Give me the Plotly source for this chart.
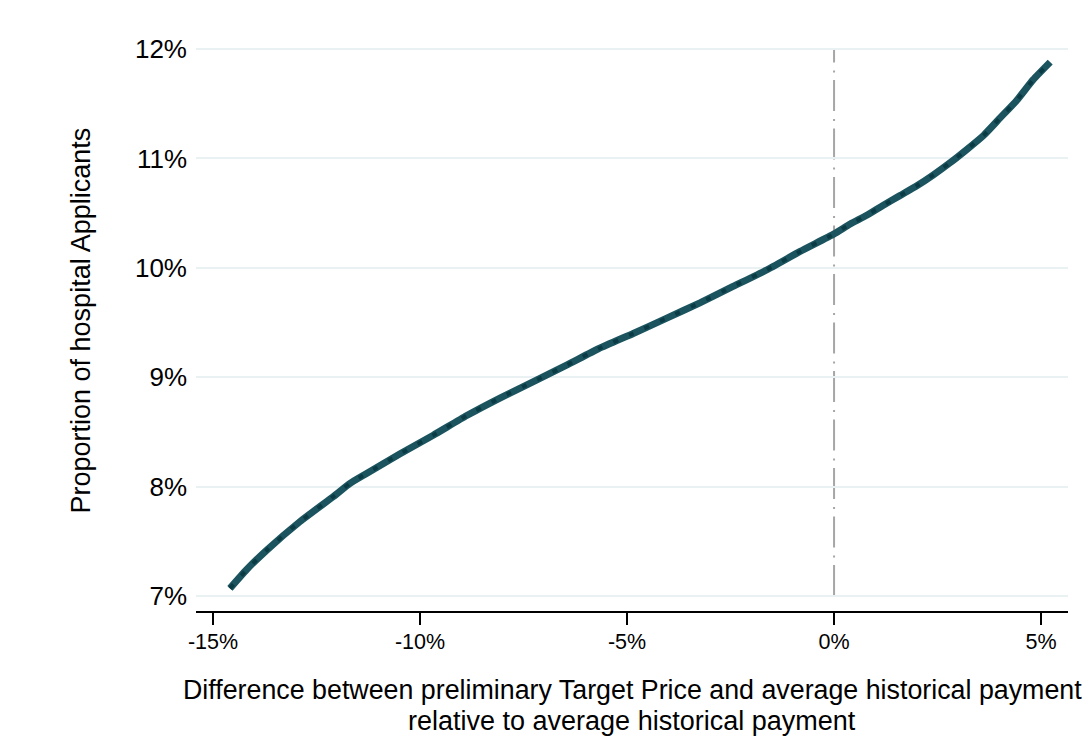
import plotly.graph_objects as go

# Difference between preliminary target price and historical payment (%)
diff_pct = [-14.59, -14.19, -13.70, -12.90, -12.09, -11.69, -11.29, -10.48,
            -9.68, -8.87, -8.07, -7.26, -6.46, -5.69, -4.85, -4.04, -3.24,
            -2.44, -1.63, -0.82, 0.0, 0.39, 0.79, 1.18, 1.59, 2.0, 2.40,
            2.80, 3.20, 3.61, 4.01, 4.41, 4.81, 5.22]
# Share of hospitals that applied (%)
share_pct = [7.07, 7.24, 7.42, 7.68, 7.91, 8.03, 8.12, 8.30,
             8.47, 8.65, 8.81, 8.96, 9.11, 9.26, 9.40, 9.54, 9.68,
             9.83, 9.98, 10.15, 10.31, 10.40, 10.48, 10.57, 10.66, 10.75, 10.85,
             10.96, 11.08, 11.21, 11.37, 11.53, 11.72, 11.88]

x_ticks = [-15, -10, -5, 0, 5]
x_tick_labels = ["-15%", "-10%", "-5%", "0%", "5%"]
y_ticks = [7, 8, 9, 10, 11, 12]
y_tick_labels = ["7%", "8%", "9%", "10%", "11%", "12%"]

FONT = "Liberation Sans, Arial, sans-serif"

fig = go.Figure()

# Fitted curve: solid teal line with a darker dashed overlay
fig.add_trace(go.Scatter(
    x=diff_pct, y=share_pct, mode="lines",
    line=dict(color="#1b545e", width=7, shape="spline", smoothing=0.5),
    hoverinfo="skip", showlegend=False,
))
fig.add_trace(go.Scatter(
    x=diff_pct, y=share_pct, mode="lines",
    line=dict(color="#0a3b44", width=4, dash="5px,12px",
              shape="spline", smoothing=0.5),
    hoverinfo="skip", showlegend=False,
))

# Reference line at zero difference
fig.add_shape(type="line", xref="x", yref="y", x0=0, x1=0, y0=7, y1=12,
              line=dict(color="#a6a6a6", width=2, dash="31px,7.5px,2px,8px"),
              layer="below")

fig.update_layout(
    width=1086, height=738,
    margin=dict(l=196, r=18, t=30, b=127),
    paper_bgcolor="white", plot_bgcolor="white",
    font=dict(family=FONT, color="black"),
    showlegend=False,
)

fig.update_xaxes(
    range=[-15.41, 5.65],
    tickvals=x_ticks, ticktext=x_tick_labels,
    tickfont=dict(size=21.5, family=FONT, color="black"),
    showline=True, linecolor="black", linewidth=1.5,
    ticks="outside", ticklen=12, tickwidth=1.5, tickcolor="black",
    showgrid=False, zeroline=False, ticklabelstandoff=-2,
)
fig.update_yaxes(
    range=[6.863, 12.174],
    tickvals=y_ticks, ticktext=y_tick_labels,
    tickfont=dict(size=26, family=FONT, color="black"),
    showline=False, ticks="", ticklabelstandoff=8,
    showgrid=True, gridcolor="#e9f1f3", gridwidth=2,
    zeroline=False,
)

# Axis titles
fig.add_annotation(
    text="Proportion of hospital Applicants", textangle=-90,
    xref="paper", yref="paper", x=(80 - 196) / 872, y=0.5,
    xanchor="center", yanchor="middle", showarrow=False,
    font=dict(size=27, family=FONT, color="black"),
)
fig.add_annotation(
    text="Difference between preliminary Target Price and average historical payment",
    xref="paper", yref="paper", x=0.5, y=-(690 - 611) / 581,
    xanchor="center", yanchor="middle", showarrow=False,
    font=dict(size=26.8, family=FONT, color="black"),
)
fig.add_annotation(
    text="relative to average historical payment",
    xref="paper", yref="paper", x=0.5, y=-(721 - 611) / 581,
    xanchor="center", yanchor="middle", showarrow=False,
    font=dict(size=27, family=FONT, color="black"),
)

fig.write_html("out.html")
